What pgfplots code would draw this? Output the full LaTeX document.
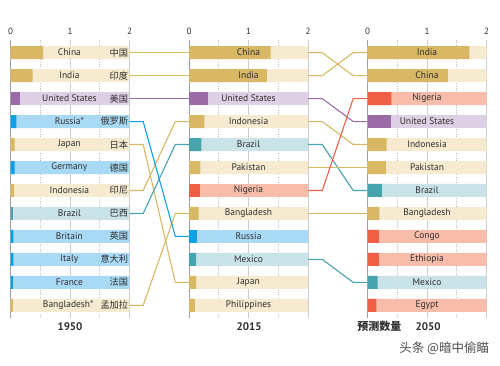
\documentclass[border=0pt]{standalone}
\usepackage{pgfplots}
\pgfplotsset{compat=1.18}
\usepackage{fontspec}
\setmainfont{PT Sans}
\newfontfamily\cjk{Noto Sans CJK SC}
\definecolor{Ad}{HTML}{D9B865}
\definecolor{Al}{HTML}{F6EAD0}
\definecolor{Pd}{HTML}{9B6BA8}
\definecolor{Pl}{HTML}{DDD0E5}
\definecolor{Ed}{HTML}{0FA0E4}
\definecolor{El}{HTML}{A8DAF6}
\definecolor{Ld}{HTML}{45A4AE}
\definecolor{Ll}{HTML}{C9E3E8}
\definecolor{Fd}{HTML}{EE5F45}
\definecolor{Fl}{HTML}{F8BDAA}
\definecolor{txt}{HTML}{2E2E2E}
\pgfplotsset{
  panel/.style={scale only axis, width=119pt, height=278pt,
    xmin=0, xmax=2, ymin=0.45, ymax=12.55, y dir=reverse,
    anchor=south west, clip=false,
    axis x line=top, axis y line=left, axis line style={-},
    x axis line style={draw=none},
    y axis line style={draw=gray!75, line width=1pt},
    xtick={0,1,2}, minor xtick={0.5,1.5}, ytick=\empty,
    xmajorgrids, xminorgrids,
    major grid style={gray!40, line width=0.6pt},
    minor grid style={gray!55, dotted, line width=0.6pt},
    tick style={draw=none},
    xticklabel style={font=\fontsize{9}{10}\selectfont, text=txt},
    /pgf/number format/assume math mode=true},
  br/.style={xbar, bar shift=0pt, bar width=13pt, draw=none, fill=#1},
  con/.style={line width=1.1pt, no marks, sharp plot, draw=#1},
}
\tikzset{
  lbl/.style={font=\fontsize{9.5}{10}\selectfont, text=txt, inner sep=0pt},
  cn/.style={font=\cjk\fontsize{9.2}{10}\selectfont, text=txt, inner sep=0pt, anchor=east},
  yr/.style={font=\bfseries\fontsize{11}{12}\selectfont, text=txt, inner sep=0pt},
}
\begin{document}
\begin{tikzpicture}
\useasboundingbox (0,0) rectangle (500pt,365pt);
% ---------------- 1950 ----------------
\begin{axis}[panel, at={(10.5pt,47pt)}]
\addplot[br=Al] coordinates {(2,1) (2,2) (2,5) (2,7) (2,12)};
\addplot[br=Pl] coordinates {(2,3)};
\addplot[br=El] coordinates {(2,4) (2,6) (2,9) (2,10) (2,11)};
\addplot[br=Ll] coordinates {(2,8)};
\addplot[br=Ad] coordinates {(0.55,1) (0.37,2) (0.07,5) (0.06,7) (0.04,12)};
\addplot[br=Pd] coordinates {(0.16,3)};
\addplot[br=Ed] coordinates {(0.10,4) (0.07,6) (0.05,9) (0.05,10) (0.04,11)};
\addplot[br=Ld] coordinates {(0.05,8)};
% connectors to 2015
\addplot[con=Ad] coordinates {(2,1) (3,1)};
\addplot[con=Ad] coordinates {(2,2) (3,2)};
\addplot[con=Pd] coordinates {(2,3) (3,3)};
\addplot[con=Ad] coordinates {(2,5) (2.23,5) (2.77,11) (3,11)};
\addplot[con=Ad] coordinates {(2,7) (2.23,7) (2.77,4) (3,4)};
\addplot[con=Ad] coordinates {(2,12) (2.23,12) (2.77,8) (3,8)};
\addplot[con=Ld] coordinates {(2,8) (2.23,8) (2.77,5) (3,5)};
\addplot[con=Ed] coordinates {(2,4) (2.23,4) (2.77,9) (3,9)};
\node[lbl] at (axis cs:0.99,1) {China};      \node[cn] at (axis cs:1.98,1) {中国};
\node[lbl] at (axis cs:0.99,2) {India};      \node[cn] at (axis cs:1.98,2) {印度};
\node[lbl] at (axis cs:0.99,3) {United States}; \node[cn] at (axis cs:1.98,3) {美国};
\node[lbl] at (axis cs:0.99,4) {Russia*};    \node[cn] at (axis cs:1.98,4) {俄罗斯};
\node[lbl] at (axis cs:0.99,5) {Japan};      \node[cn] at (axis cs:1.98,5) {日本};
\node[lbl] at (axis cs:0.99,6) {Germany};    \node[cn] at (axis cs:1.98,6) {德国};
\node[lbl] at (axis cs:0.99,7) {Indonesia};  \node[cn] at (axis cs:1.98,7) {印尼};
\node[lbl] at (axis cs:0.99,8) {Brazil};     \node[cn] at (axis cs:1.98,8) {巴西};
\node[lbl] at (axis cs:0.99,9) {Britain};    \node[cn] at (axis cs:1.98,9) {英国};
\node[lbl] at (axis cs:0.99,10) {Italy};     \node[cn] at (axis cs:1.98,10) {意大利};
\node[lbl] at (axis cs:0.99,11) {France};    \node[cn] at (axis cs:1.98,11) {法国};
\node[lbl] at (axis cs:0.97,12) {Bangladesh*}; \node[cn] at (axis cs:1.98,12) {孟加拉};
\node[yr] at (axis cs:1,12.91) {1950};
\end{axis}
% ---------------- 2015 ----------------
\begin{axis}[panel, at={(189pt,47pt)}]
\addplot[br=Al] coordinates {(2,1) (2,2) (2,4) (2,6) (2,8) (2,11) (2,12)};
\addplot[br=Pl] coordinates {(2,3)};
\addplot[br=El] coordinates {(2,9)};
\addplot[br=Ll] coordinates {(2,5) (2,10)};
\addplot[br=Fl] coordinates {(2,7)};
\addplot[br=Ad] coordinates {(1.37,1) (1.31,2) (0.26,4) (0.19,6) (0.16,8) (0.12,11) (0.10,12)};
\addplot[br=Pd] coordinates {(0.32,3)};
\addplot[br=Ed] coordinates {(0.14,9)};
\addplot[br=Ld] coordinates {(0.21,5) (0.12,10)};
\addplot[br=Fd] coordinates {(0.18,7)};
% connectors to 2050
\addplot[con=Ad] coordinates {(2,1) (2.24,1) (2.76,2) (3,2)};
\addplot[con=Ad] coordinates {(2,2) (2.24,2) (2.76,1) (3,1)};
\addplot[con=Pd] coordinates {(2,3) (2.24,3) (2.76,4) (3,4)};
\addplot[con=Ad] coordinates {(2,4) (2.24,4) (2.76,5) (3,5)};
\addplot[con=Ld] coordinates {(2,5) (2.24,5) (2.76,7) (3,7)};
\addplot[con=Ad] coordinates {(2,6) (3,6)};
\addplot[con=Ad] coordinates {(2,8) (3,8)};
\addplot[con=Ld] coordinates {(2,10) (2.24,10) (2.76,11) (3,11)};
\addplot[con=Fd] coordinates {(2,7) (2.24,7) (2.76,3) (3,3)};
\node[lbl] at (axis cs:1,1) {China};
\node[lbl] at (axis cs:1,2) {India};
\node[lbl] at (axis cs:1,3) {United States};
\node[lbl] at (axis cs:1,4) {Indonesia};
\node[lbl] at (axis cs:1,5) {Brazil};
\node[lbl] at (axis cs:1,6) {Pakistan};
\node[lbl] at (axis cs:1,7) {Nigeria};
\node[lbl] at (axis cs:1,8) {Bangladesh};
\node[lbl] at (axis cs:1,9) {Russia};
\node[lbl] at (axis cs:1,10) {Mexico};
\node[lbl] at (axis cs:1,11) {Japan};
\node[lbl] at (axis cs:1,12) {Philippines};
\node[yr] at (axis cs:1.01,12.91) {2015};
\end{axis}
% ---------------- 2050 ----------------
\begin{axis}[panel, at={(367.5pt,47pt)}]
\addplot[br=Al] coordinates {(2,1) (2,2) (2,5) (2,6) (2,8)};
\addplot[br=Pl] coordinates {(2,4)};
\addplot[br=Ll] coordinates {(2,7) (2,11)};
\addplot[br=Fl] coordinates {(2,3) (2,9) (2,10) (2,12)};
\addplot[br=Ad] coordinates {(1.71,1) (1.35,2) (0.32,5) (0.31,6) (0.20,8)};
\addplot[br=Pd] coordinates {(0.39,4)};
\addplot[br=Ld] coordinates {(0.24,7) (0.17,11)};
\addplot[br=Fd] coordinates {(0.40,3) (0.19,9) (0.19,10) (0.15,12)};
\node[lbl] at (axis cs:1,1) {India};
\node[lbl] at (axis cs:1,2) {China};
\node[lbl] at (axis cs:1,3) {Nigeria};
\node[lbl] at (axis cs:1,4) {United States};
\node[lbl] at (axis cs:1,5) {Indonesia};
\node[lbl] at (axis cs:1,6) {Pakistan};
\node[lbl] at (axis cs:1,7) {Brazil};
\node[lbl] at (axis cs:1,8) {Bangladesh};
\node[lbl] at (axis cs:1,9) {Congo};
\node[lbl] at (axis cs:1,10) {Ethiopia};
\node[lbl] at (axis cs:1,11) {Mexico};
\node[lbl] at (axis cs:1,12) {Egypt};
\node[yr] at (axis cs:1.02,12.91) {2050};
\node[yr, font=\cjk\bfseries\fontsize{11}{12}\selectfont] at (axis cs:0.2,12.91) {预测数量};
\node[font=\cjk\fontsize{12.5}{13}\selectfont, text=black!70, inner sep=0pt] at (axis cs:1.29,13.87) {头条 @暗中偷瞄};
\end{axis}
\end{tikzpicture}
\end{document}
